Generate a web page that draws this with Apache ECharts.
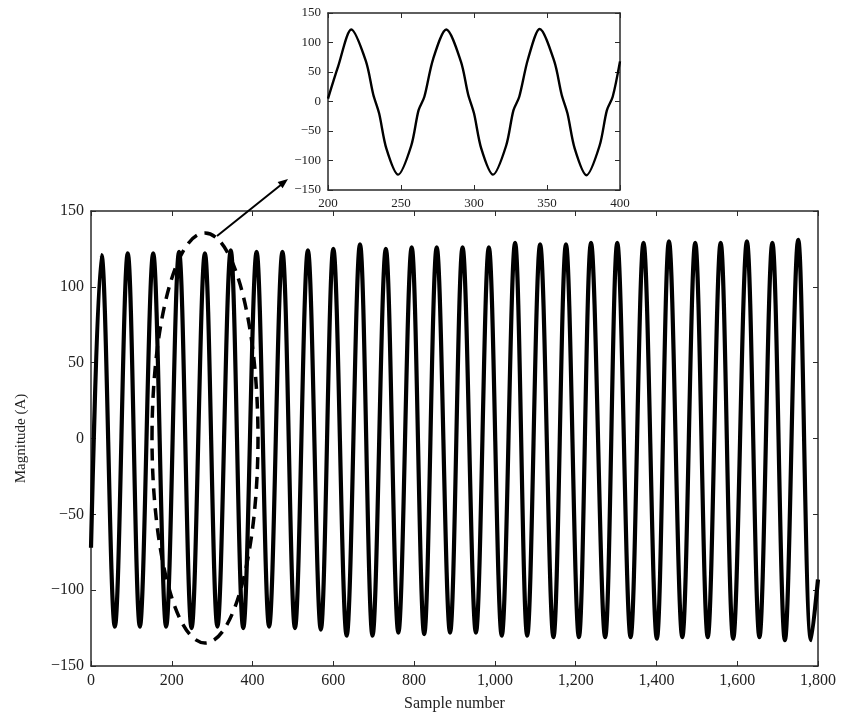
<!DOCTYPE html>
<html>
<head>
<meta charset="utf-8">
<script src="https://cdn.jsdelivr.net/npm/echarts@6/dist/echarts.min.js"></script>
<style>
html,body{margin:0;padding:0;background:#fff;}
#chart{width:842px;height:717px;}
</style>
</head>
<body>
<div id="chart"></div>
<script>
// ---- Main chart data ----
var startPoint = [0, -72];
var endPoint = [1800, -93];
var peakSamples = [26, 91, 154, 218, 282, 346, 410, 474, 537, 600, 666, 730, 794, 856, 920, 985, 1050, 1112, 1176, 1238, 1303, 1368, 1431, 1496, 1559, 1624, 1687, 1751];
var peakValues  = [121, 122, 122, 123, 122, 124, 123, 123, 124, 125, 128, 125, 126, 126, 126, 126, 129, 128, 128, 129, 129, 129, 130, 129, 129, 130, 129, 131];
var troughSamples = [59, 121, 186, 249, 313, 377, 441, 505, 569, 633, 697, 761, 825, 889, 953, 1017, 1080, 1145, 1208, 1273, 1336, 1401, 1464, 1527, 1590, 1655, 1718, 1783];
var troughValues  = [-124, -124, -124, -125, -124, -125, -124, -125, -126, -130, -130, -128, -129, -128, -128, -130, -130, -131, -131, -131, -131, -132, -131, -131, -132, -131, -133, -133];

// ---- Inset data ----
var insetSamples = [200, 207, 216, 226, 231, 235, 240, 248, 257, 262, 266, 272, 281, 291, 296, 300, 305, 313, 322, 327, 331, 337, 345, 355, 360, 364, 369, 377, 386, 391, 395, 400];
var insetValues  = [5, 60, 122, 68, 12, -20, -80, -124, -75, -15, 8, 72, 122, 68, 12, -20, -80, -124, -75, -15, 8, 72, 123, 68, 12, -20, -80, -125, -75, -15, 8, 68];

// ---- Tick settings ----
var mainXTicks = {min: 0, max: 1800, interval: 200};
var mainYTicks = {min: -150, max: 150, interval: 50};
var insetXTicks = {min: 200, max: 400, interval: 50};
var insetYTicks = {min: -150, max: 150, interval: 50};

var mainData = [startPoint];
for (var i = 0; i < peakSamples.length; i++) {
  mainData.push([peakSamples[i], peakValues[i]]);
  mainData.push([troughSamples[i], troughValues[i]]);
}
mainData.push(endPoint);

var insetData = insetSamples.map(function (s, i) { return [s, insetValues[i]]; });

var FONT = '"Liberation Serif", "DejaVu Serif", serif';
var TXT = '#222';
var LINE = '#2a2a2a';

function fmtNum(v) {
  var s = Math.abs(v).toLocaleString('en-US');
  return (v < 0 ? '\u2212' : '') + s;
}

function axis(gridIndex, pos, ticks, showLabels, fontSize, extra) {
  var a = {
    type: 'value', gridIndex: gridIndex, position: pos,
    min: ticks.min, max: ticks.max, interval: ticks.interval,
    splitLine: {show: false},
    axisLine: {show: true, onZero: false, lineStyle: {color: LINE, width: 1.5}},
    axisTick: {show: true, inside: true, length: 5, lineStyle: {color: LINE, width: 1}},
    axisLabel: {show: showLabels, color: TXT, fontFamily: FONT, fontSize: fontSize, formatter: fmtNum, margin: 7}
  };
  for (var k in extra) a[k] = extra[k];
  return a;
}

var chart = echarts.init(document.getElementById('chart'), null, {renderer: 'canvas'});

var option = {
  backgroundColor: '#fff',
  animation: false,
  grid: [
    {left: 91, top: 211, width: 727, height: 458},
    {left: 328, top: 13, width: 292, height: 177}
  ],
  xAxis: [
    axis(0, 'bottom', mainXTicks, true, 16, {
      name: 'Sample number', nameLocation: 'middle', nameGap: 30,
      nameTextStyle: {color: TXT, fontFamily: FONT, fontSize: 16}
    }),
    axis(0, 'top', mainXTicks, false, 16, {}),
    axis(1, 'bottom', insetXTicks, true, 13, {}),
    axis(1, 'top', insetXTicks, false, 13, {})
  ],
  yAxis: [
    axis(0, 'left', mainYTicks, true, 16, {
      name: 'Magnitude (A)', nameLocation: 'middle', nameGap: 62,
      nameTextStyle: {color: TXT, fontFamily: FONT, fontSize: 15}
    }),
    axis(0, 'right', mainYTicks, false, 16, {}),
    axis(1, 'left', insetYTicks, true, 13, {}),
    axis(1, 'right', insetYTicks, false, 13, {})
  ],
  series: [
    {
      type: 'line', xAxisIndex: 0, yAxisIndex: 0, data: mainData,
      smooth: 0.36, symbol: 'none', clip: true,
      lineStyle: {color: '#000', width: 4.2}
    },
    {
      type: 'line', xAxisIndex: 2, yAxisIndex: 2, data: insetData,
      smooth: 0.3, symbol: 'none', clip: true,
      lineStyle: {color: '#000', width: 2.4}
    }
  ],
  graphic: [
    {
      type: 'ellipse', z: 100,
      shape: {cx: 205, cy: 438, rx: 53, ry: 205},
      style: {fill: 'none', stroke: '#000', lineWidth: 3.5, lineDash: [12, 8]}
    },
    {
      type: 'line', z: 100,
      shape: {x1: 217, y1: 236, x2: 282, y2: 184},
      style: {stroke: '#000', lineWidth: 2}
    },
    {
      type: 'polygon', z: 100,
      shape: {points: [[288, 179], [282.6, 188.3], [277.6, 182.1]]},
      style: {fill: '#000'}
    }
  ]
};
chart.setOption(option);
</script>
</body>
</html>
